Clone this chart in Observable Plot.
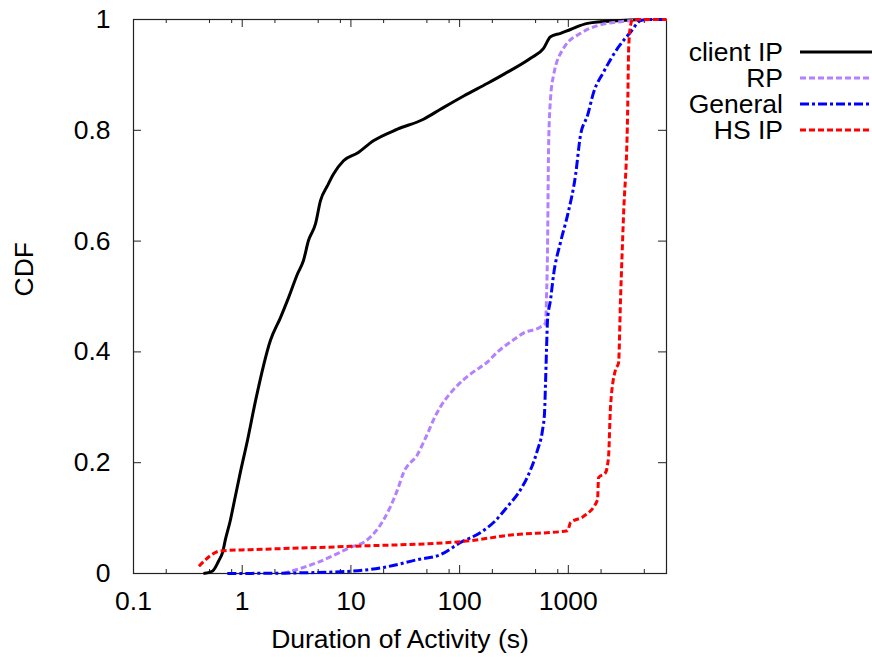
<!DOCTYPE html>
<html>
<head>
<meta charset="utf-8">
<script src="https://cdn.jsdelivr.net/npm/d3@7"></script>
<script src="https://cdn.jsdelivr.net/npm/@observablehq/plot@0.6"></script>
<style>
  html, body { margin: 0; padding: 0; background: #fff; overflow: hidden; }
  #wrap { position: relative; width: 872px; height: 657px; }
  #legend { position: absolute; left: 0; top: 0; }
</style>
</head>
<body>
<div id="wrap"></div>
<script>
// ---- data ----
const seriesNames = ["client IP", "RP", "General", "HS IP"];

const clientDur = [0.44,0.53,0.605,0.66,0.70,0.78,0.815,0.96,1.12,1.33,1.82,2.25,2.67,3.23,3.66,4.07,4.72,5.25,6.09,6.92,8.55,11.5,16.1,26.8,46.5,66.7,109,181,254,449,592,686,848,1047,1503,3020,4500];
const clientCdf = [0,0.004,0.022,0.038,0.061,0.097,0.115,0.182,0.241,0.313,0.421,0.462,0.498,0.541,0.565,0.601,0.631,0.673,0.700,0.721,0.745,0.759,0.781,0.802,0.820,0.838,0.862,0.885,0.901,0.930,0.948,0.969,0.975,0.982,0.993,0.998,1];

const rpDur = [2.4,4.93,9.9,14.2,20.0,26.8,30.5,41.0,50,60,66.7,88,109,134,181,223,294,387,555,617,630,644,658,686,731,904,1294,1857,3020,6080,8000];
const rpCdf = [0,0.020,0.047,0.061,0.097,0.151,0.182,0.215,0.25,0.285,0.301,0.332,0.350,0.364,0.382,0.400,0.418,0.434,0.445,0.452,0.50,0.587,0.768,0.858,0.899,0.948,0.975,0.989,0.996,1,1];

const genDur = [0.73,3,9.9,20,41,66.7,102,156,205,276,363,449,521,579,604,617,630,644,686,731,848,984,1165,1294,1503,1706,2109,2836,3733,4616,5400,8000];
const genCdf = [0,0.001,0.004,0.011,0.025,0.034,0.056,0.074,0.092,0.121,0.151,0.187,0.223,0.259,0.290,0.344,0.404,0.458,0.494,0.539,0.598,0.647,0.719,0.791,0.827,0.868,0.905,0.948,0.977,0.998,1,1];

const hsDur = [0.40,0.605,0.66,1.19,9.9,109,313,984,1047,1380,1857,1897,2198,2344,2443,2716,2897,3020,3221,3508,3590,3733,3900,8000];
const hsCdf = [0.013,0.040,0.041,0.043,0.049,0.058,0.070,0.077,0.092,0.103,0.133,0.173,0.182,0.211,0.301,0.368,0.380,0.494,0.647,0.827,0.948,0.989,1,1];

const xMajorTicks = [0.1, 1, 10, 100, 1000];
const xMinorTicks = [0.2,0.5,0.8,2,5,8,20,50,80,200,500,800,2000,5000];
const yTicks = [0, 0.2, 0.4, 0.6, 0.8, 1];

const colors = ["#000000", "#b380ff", "#0000ff", "#ff0000"];
const dashes = [null, "6,3", "9,3,3,3", "6,3"];
const widths = [3, 3, 3, 3];

// ---- build table ----
const pairs = [[clientDur, clientCdf], [rpDur, rpCdf], [genDur, genCdf], [hsDur, hsCdf]];
const series = pairs.map(([d, c], i) => d.map((x, j) => ({name: seriesNames[i], x, y: c[j]})));

const W = 872, H = 657;
const mL = 133, mR = 206, mT = 19, mB = 84;
const fw = W - mL - mR, fh = H - mT - mB;
const frameColor = "#222";
const font = "'Liberation Sans', Arial, sans-serif";
const fsize = "26.5px";

const marks = [
  Plot.frame({stroke: frameColor, strokeWidth: 1.2}),
  // inward ticks on all four sides
  Plot.tickX(xMajorTicks, {x: d => d, insetTop: fh - 8, stroke: frameColor}),
  Plot.tickX(xMajorTicks, {x: d => d, insetBottom: fh - 8, stroke: frameColor}),
  Plot.tickX(xMinorTicks, {x: d => d, insetTop: fh - 4, stroke: frameColor}),
  Plot.tickX(xMinorTicks, {x: d => d, insetBottom: fh - 4, stroke: frameColor}),
  Plot.tickY(yTicks, {y: d => d, insetRight: fw - 8, stroke: frameColor}),
  Plot.tickY(yTicks, {y: d => d, insetLeft: fw - 8, stroke: frameColor}),
  Plot.axisX({ticks: xMajorTicks, tickFormat: d => String(d), tickSize: 0, tickPadding: 18, label: null}),
  Plot.axisY({ticks: yTicks, tickFormat: d => String(d), tickSize: 0, tickPadding: 23, label: null}),
  Plot.text(["Duration of Activity (s)"], {frameAnchor: "bottom", dy: 66, lineAnchor: "middle", text: d => d}),
  Plot.text(["CDF"], {frameAnchor: "left", dx: -109, rotate: -90, text: d => d})
];
series.forEach((s, i) => {
  marks.push(Plot.line(s, {x: "x", y: "y", stroke: colors[i], strokeWidth: widths[i],
    strokeDasharray: dashes[i] || undefined, strokeLinecap: "butt", strokeLinejoin: "round",
    curve: "monotone-x"}));
});

const chart = Plot.plot({
  width: W, height: H,
  marginLeft: mL, marginRight: mR, marginTop: mT, marginBottom: mB,
  style: {fontFamily: font, fontSize: fsize, color: "#000", background: "#fff"},
  x: {type: "log", domain: [0.1, 8000], label: null},
  y: {domain: [0, 1], label: null},
  marks
});
document.getElementById("wrap").appendChild(chart);

// ---- legend (outside right of plot area) ----
const ns = "http://www.w3.org/2000/svg";
const leg = document.createElementNS(ns, "svg");
leg.setAttribute("id", "legend");
leg.setAttribute("width", W);
leg.setAttribute("height", H);
leg.style.fontFamily = font;
leg.style.fontSize = fsize;
seriesNames.forEach((name, i) => {
  const base = 61 + i * 26;
  const t = document.createElementNS(ns, "text");
  t.setAttribute("x", 783);
  t.setAttribute("y", base);
  t.setAttribute("text-anchor", "end");
  t.setAttribute("fill", "#000");
  t.textContent = name;
  leg.appendChild(t);
  const l = document.createElementNS(ns, "line");
  l.setAttribute("x1", 800); l.setAttribute("x2", 880);
  l.setAttribute("y1", base - 9); l.setAttribute("y2", base - 9);
  l.setAttribute("stroke", colors[i]);
  l.setAttribute("stroke-width", widths[i]);
  if (dashes[i]) l.setAttribute("stroke-dasharray", dashes[i]);
  leg.appendChild(l);
});
document.getElementById("wrap").appendChild(leg);
</script>
</body>
</html>
